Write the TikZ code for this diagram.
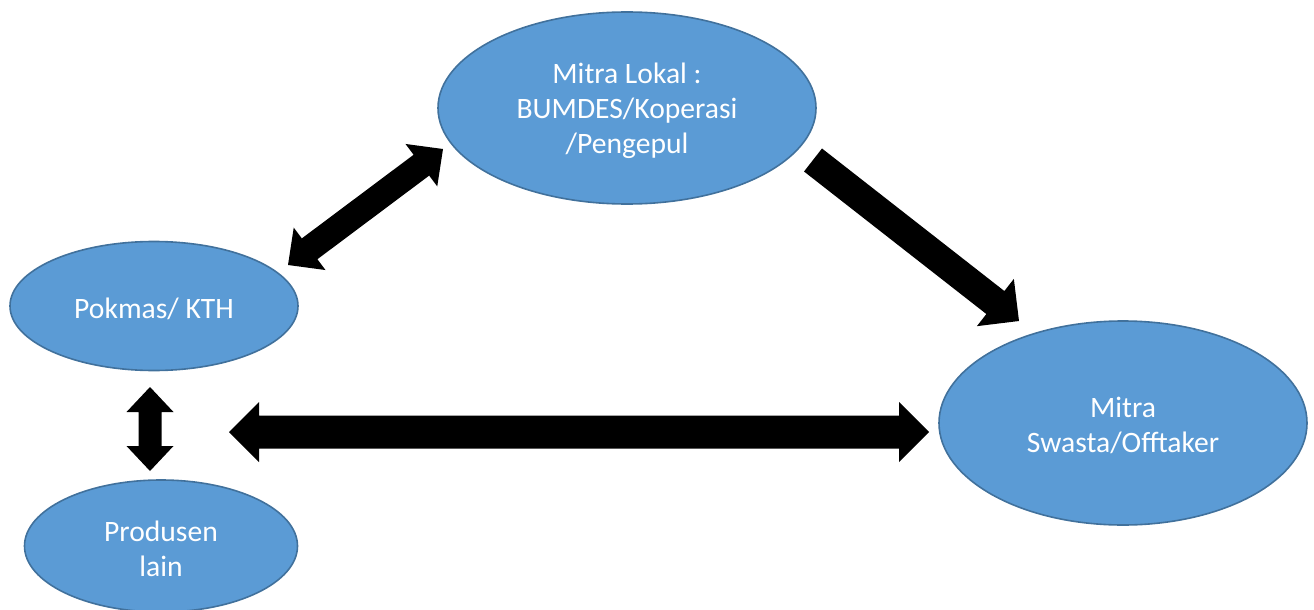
\documentclass[tikz,border=0pt]{standalone}
\usepackage{fontspec}
\setmainfont{Carlito}
\usetikzlibrary{shapes.geometric,calc}
\definecolor{ellfill}{HTML}{5B9BD5}
\definecolor{elldraw}{HTML}{41719C}
\tikzset{
  ellnode/.style={ellipse, fill=ellfill, draw=elldraw, line width=1.6pt, inner sep=0pt,
    text=white, align=center, font=\fontsize{29.6}{35}\selectfont},
  blockarrow/.style={fill=black}
}
\newcommand\tallstrut{\rule{0pt}{25.5pt}}
% double block arrow between tips #1 and #2: shaft half width #3, head half width #4, head length #5
\newcommand\myDblArrow[5]{%
  \fill[blockarrow] (#1)
    -- ($($(#1)!#5!(#2)$)!#4!90:(#2)$)
    -- ($($(#1)!#5!(#2)$)!#3!90:(#2)$)
    -- ($($(#2)!#5!(#1)$)!#3!-90:(#1)$)
    -- ($($(#2)!#5!(#1)$)!#4!-90:(#1)$)
    -- (#2)
    -- ($($(#2)!#5!(#1)$)!#4!90:(#1)$)
    -- ($($(#2)!#5!(#1)$)!#3!90:(#1)$)
    -- ($($(#1)!#5!(#2)$)!#3!-90:(#2)$)
    -- ($($(#1)!#5!(#2)$)!#4!-90:(#2)$)
    -- cycle;}
% single block arrow from tail centre #1 to tip #2
\newcommand\mySglArrow[5]{%
  \fill[blockarrow] ($(#1)!#3!90:(#2)$)
    -- ($($(#2)!#5!(#1)$)!#3!-90:(#1)$)
    -- ($($(#2)!#5!(#1)$)!#4!-90:(#1)$)
    -- (#2)
    -- ($($(#2)!#5!(#1)$)!#4!90:(#1)$)
    -- ($($(#2)!#5!(#1)$)!#3!90:(#1)$)
    -- ($(#1)!#3!-90:(#2)$)
    -- cycle;}
\begin{document}
\begin{tikzpicture}[x=1pt,y=-1pt]
\useasboundingbox (0,0) rectangle (1314,610);
\begin{scope}
\clip (0,0) rectangle (1314,610);
\node[ellnode, minimum width=378pt, minimum height=192pt] (lokal) at (627,108)
  {\tallstrut Mitra Lokal :\\BUMDES/Koperasi\\/Pengepul};
\node[ellnode, minimum width=288pt, minimum height=129pt] (pokmas) at (154,306)
  {\tallstrut Pokmas/ KTH};
\node[ellnode, minimum width=273pt, minimum height=132pt] (produsen) at (161,546)
  {\tallstrut Produsen\\lain};
\node[ellnode, minimum width=368pt, minimum height=204pt] (swasta) at (1123,423)
  {\tallstrut Mitra\\Swasta/Offtaker};
\end{scope}
% arrow end points
\coordinate (a1p) at (288,265);
\coordinate (a1l) at (443,149);
\coordinate (a2l) at (813,160);
\coordinate (a2s) at (1019,321);
\coordinate (a3p) at (150,387);
\coordinate (a3d) at (150,471);
\coordinate (a4d) at (229,432);
\coordinate (a4s) at (929,432);
\myDblArrow{a1p}{a1l}{13pt}{26.5pt}{27pt}
\mySglArrow{a2l}{a2s}{14.6pt}{30pt}{30pt}
\myDblArrow{a3p}{a3d}{11.5pt}{23.5pt}{25pt}
\myDblArrow{a4d}{a4s}{16.5pt}{30pt}{30pt}
\end{tikzpicture}
\end{document}
